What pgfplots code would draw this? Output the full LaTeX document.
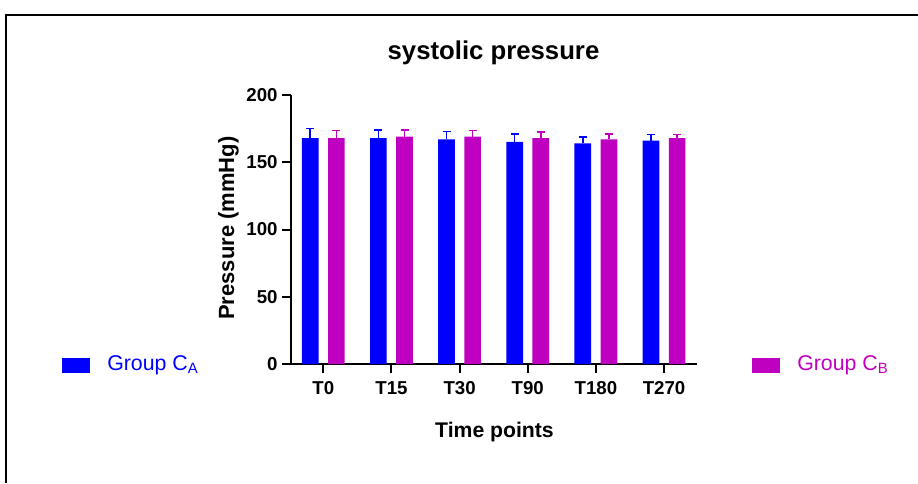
\documentclass[border=0pt]{standalone}
\usepackage{fontspec}
\setmainfont{Liberation Sans}
\usepackage{pgfplots}
\pgfplotsset{compat=1.18}
\definecolor{grpA}{RGB}{0,0,255}
\definecolor{grpB}{RGB}{192,0,192}

\begin{document}
\begin{tikzpicture}[x=0.75pt,y=0.75pt]
  % picture in pixel units of the reference, origin bottom left
  \useasboundingbox (0,0) rectangle (918,483);
  \draw[line width=1.5pt] (6,0) -- (6,467.5) -- (918,467.5);

  \begin{axis}[
      at={(218.25pt,89.25pt)}, anchor=south west,
      scale only axis, width=304.3pt, height=201.75pt,
      xmin=-0.474, xmax=5.48, ymin=0, ymax=200,
      ybar=7.1pt, bar width=12.5pt,
      axis x line*=bottom, axis y line*=left,
      axis line style={line width=1.5pt},
      xtick={0,...,5}, xticklabels={T0,T15,T30,T90,T180,T270},
      ytick={0,50,100,150,200},
      tick align=outside, major tick length=6.5pt,
      tick style={line width=1.5pt, black},
      /pgf/number format/assume math mode=true,
      tick label style={font=\fontsize{14}{14}\selectfont\bfseries},
      xticklabel style={yshift=-3pt},
      clip=false,
    ]
    \addplot[fill=grpA, draw=none,
      error bars/.cd, y dir=plus, y explicit,
      error bar style={line width=1.2pt, grpA},
      error mark options={rotate=90, mark size=3pt, line width=1.2pt, grpA}]
      coordinates {
        (0,168.0) +- (0,7.0)
        (1,168.0) +- (0,6.2)
        (2,167.0) +- (0,5.8)
        (3,165.1) +- (0,6.1)
        (4,164.1) +- (0,4.7)
        (5,166.0) +- (0,4.5)
      };
    \addplot[fill=grpB, draw=none,
      error bars/.cd, y dir=plus, y explicit,
      error bar style={line width=1.2pt, grpB},
      error mark options={rotate=90, mark size=3pt, line width=1.2pt, grpB}]
      coordinates {
        (0,168.0) +- (0,5.5)
        (1,169.0) +- (0,5.2)
        (2,169.0) +- (0,4.5)
        (3,168.0) +- (0,4.5)
        (4,167.0) +- (0,4.2)
        (5,168.0) +- (0,2.5)
      };
  \end{axis}

  \node[anchor=base, font=\fontsize{19.3}{20}\selectfont\bfseries] at (493.5,423) {systolic pressure};
  \node[anchor=base, font=\fontsize{15.9}{16}\selectfont\bfseries] at (494.5,46) {Time points};
  \node[anchor=base, rotate=90, font=\fontsize{16.5}{17}\selectfont\bfseries] at (234,255) {Pressure (mmHg)};

  % legend entries
  \fill[grpA] (62,110) rectangle (90,125);
  \node[anchor=base west, inner sep=0pt, text=grpA, font=\fontsize{16}{16}\selectfont] at (107,113) {Group C\textsubscript{A}};
  \fill[grpB] (752,110) rectangle (780,125);
  \node[anchor=base west, inner sep=0pt, text=grpB, font=\fontsize{16}{16}\selectfont] at (797,113) {Group C\textsubscript{B}};
\end{tikzpicture}
\end{document}
